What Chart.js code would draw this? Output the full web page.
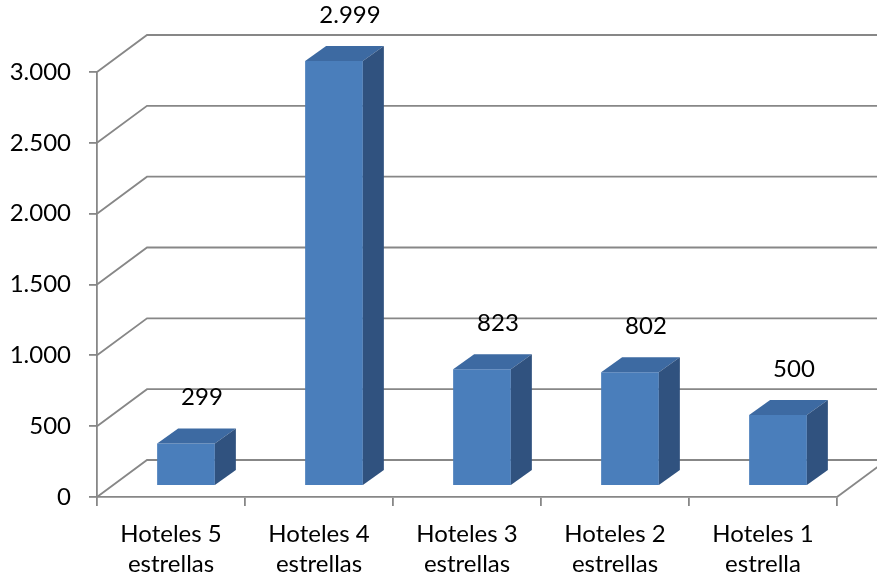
<!DOCTYPE html>
<html>
<head>
<meta charset="utf-8">
<script src="https://cdn.jsdelivr.net/npm/chart.js@4.4.1/dist/chart.umd.min.js"></script>
<style>
  html, body { margin: 0; padding: 0; background: #fff; }
</style>
</head>
<body>
<canvas id="hotelChart" width="877" height="579"></canvas>
<script>
// data
const categories = [
  ['Hoteles 5', 'estrellas'],
  ['Hoteles 4', 'estrellas'],
  ['Hoteles 3', 'estrellas'],
  ['Hoteles 2', 'estrellas'],
  ['Hoteles 1', 'estrella']
];
const hotelCounts = [299, 2999, 823, 802, 500];
const yTickValues = [0, 500, 1000, 1500, 2000, 2500, 3000];

// 3D look
const DX = 50, DY = -37;           // depth of the walls
const BAR_SHIFT = 0.3;             // bars sit a bit behind the front edge
const BDX = 21, BDY = -15;         // depth of a bar
const gridColor = '#878787';
const frontColor = '#4a7ebb';
const topColor = '#3d6aa2';
const sideColor = '#30527f';
const fontFamily = 'Lato, "Open Sans", sans-serif';

function fmt(v) {
  return String(v).replace(/\B(?=(\d{3})+(?!\d))/g, '.');
}

const walls3d = {
  id: 'walls3d',
  beforeDatasetsDraw(chart) {
    const { ctx, chartArea: a, scales: { y } } = chart;
    ctx.save();
    ctx.strokeStyle = gridColor;
    ctx.lineWidth = 1.8;
    y.ticks.forEach(t => {
      const py = y.getPixelForValue(t.value);
      ctx.beginPath();
      ctx.moveTo(a.left, py);
      ctx.lineTo(a.left + DX, py + DY);
      ctx.lineTo(a.right + DX, py + DY);
      ctx.stroke();
    });
    // right edge of the floor
    ctx.beginPath();
    ctx.moveTo(a.right, a.bottom);
    ctx.lineTo(a.right + DX, a.bottom + DY);
    ctx.stroke();
    ctx.restore();

    // bars are drawn pushed back into the box
    ctx.save();
    ctx.translate(DX * BAR_SHIFT, DY * BAR_SHIFT);
  },
  afterDatasetsDraw(chart) {
    const { ctx } = chart;
    const meta = chart.getDatasetMeta(0);
    meta.data.forEach(bar => {
      const { x, y, base, width } = bar.getProps(['x', 'y', 'base', 'width'], true);
      const l = x - width / 2, r = x + width / 2;
      ctx.fillStyle = topColor;
      ctx.beginPath();
      ctx.moveTo(l, y);
      ctx.lineTo(r, y);
      ctx.lineTo(r + BDX, y + BDY);
      ctx.lineTo(l + BDX, y + BDY);
      ctx.closePath();
      ctx.fill();
      ctx.fillStyle = sideColor;
      ctx.beginPath();
      ctx.moveTo(r, y);
      ctx.lineTo(r + BDX, y + BDY);
      ctx.lineTo(r + BDX, base + BDY);
      ctx.lineTo(r, base);
      ctx.closePath();
      ctx.fill();
    });
    ctx.restore();

    // value labels
    ctx.save();
    ctx.fillStyle = '#000';
    ctx.font = '24px ' + fontFamily;
    ctx.textAlign = 'center';
    ctx.textBaseline = 'middle';
    meta.data.forEach((bar, i) => {
      const { x, y } = bar.getProps(['x', 'y'], true);
      ctx.fillText(fmt(hotelCounts[i]), x + DX * BAR_SHIFT + 16, y + DY * BAR_SHIFT - 46);
    });
    ctx.restore();
  }
};

const ctx = document.getElementById('hotelChart').getContext('2d');
new Chart(ctx, {
  type: 'bar',
  data: {
    labels: categories,
    datasets: [{
      data: hotelCounts,
      backgroundColor: frontColor,
      borderWidth: 0,
      barPercentage: 0.39,
      categoryPercentage: 1,
      clip: false
    }]
  },
  options: {
    responsive: false,
    animation: false,
    devicePixelRatio: 1,
    layout: { padding: { top: 72, right: 40, left: 0, bottom: 0 } },
    plugins: {
      legend: { display: false },
      tooltip: { enabled: false }
    },
    scales: {
      x: {
        afterFit: s => { s.height = 82; },
        border: { display: true, color: gridColor, width: 1.8 },
        grid: { drawOnChartArea: false, drawTicks: true, tickLength: 9, color: gridColor, lineWidth: 1.8 },
        ticks: {
          color: '#000',
          padding: 13,
          maxRotation: 0,
          autoSkip: false,
          font: { family: fontFamily, size: 24, lineHeight: 1.25 }
        }
      },
      y: {
        min: 0,
        max: 3000,
        afterFit: s => { s.width = 97; },
        afterBuildTicks: s => { s.ticks = yTickValues.map(v => ({ value: v })); },
        border: { display: true, color: gridColor, width: 1.8 },
        grid: { drawOnChartArea: false, drawTicks: true, tickLength: 8, color: gridColor, lineWidth: 1.8 },
        ticks: {
          color: '#000',
          padding: 18,
          callback: v => fmt(v),
          font: { family: fontFamily, size: 24 }
        }
      }
    }
  },
  plugins: [walls3d]
});
</script>
</body>
</html>
